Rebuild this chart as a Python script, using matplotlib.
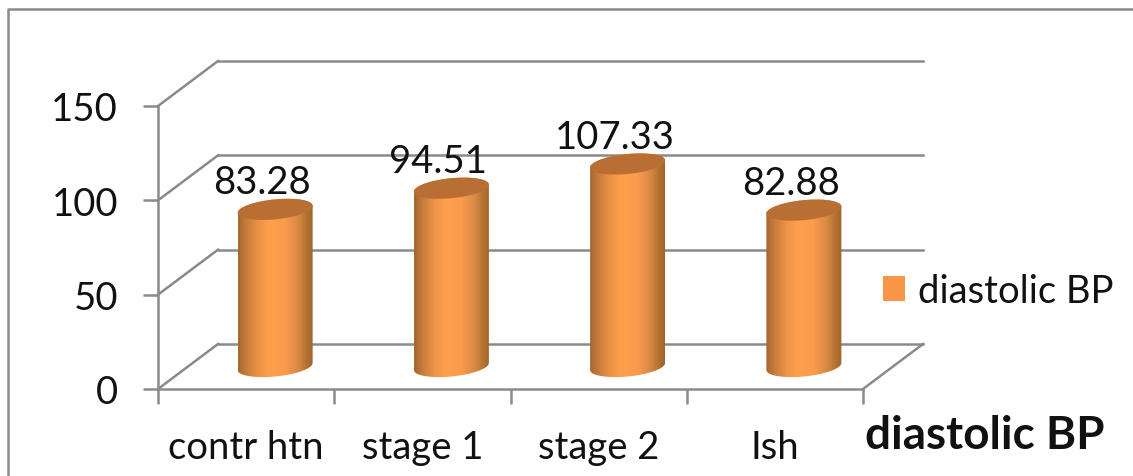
import numpy as np
import matplotlib
matplotlib.use("Agg")
import matplotlib.pyplot as plt
from matplotlib.colors import LinearSegmentedColormap
from matplotlib.lines import Line2D
from matplotlib.patches import Patch
from matplotlib.path import Path

categories = ["contr htn", "stage 1", "stage 2", "Ish"]
diastolic_bp = [83.28, 94.51, 107.33, 82.88]
y_ticks = [0, 50, 100, 150]
series_name = "diastolic BP"
axis_title = "diastolic BP"

plt.rcParams["font.family"] = ["Lato", "DejaVu Sans"]

W, H = 1133, 477
GREY = "#8a8a8a"
LW = 1.8
FS = 27.5
TEXT = "#111111"

# Plot box in pixels: the front plane of the 3D chart
LEFT, RIGHT, BOTTOM, TOP = 158, 863, 390, 107
DEPTH_X, DEPTH_Y = 60, 45  # oblique offset of the back wall, pixels

fig = plt.figure(figsize=(W / 100, H / 100), dpi=100, facecolor="white")
ax = fig.add_axes([LEFT / W, 1 - BOTTOM / H, (RIGHT - LEFT) / W, (BOTTOM - TOP) / H])
ax.set_xlim(0, len(categories))
ax.set_ylim(0, 150)
ax.patch.set_alpha(0)

ux = (RIGHT - LEFT) / len(categories)  # pixels per category
uy = (BOTTOM - TOP) / 150              # pixels per value unit


def project(x, y, depth):
    """Oblique projection of a point at a depth between 0 (front) and 1 (back)."""
    return x + depth * DEPTH_X / ux, y + depth * DEPTH_Y / uy


def line(xs, ys):
    ax.plot(xs, ys, color=GREY, lw=LW, clip_on=False, solid_capstyle="projecting", zorder=1)


# Back wall gridlines and their diagonals along the side wall
n = len(categories)
for v in y_ticks:
    x0, y0 = project(0, v, 1)
    x1, y1 = project(n, v, 1)
    line([0, x0], [v, y0])
    line([x0, x1], [y0, y1])

# Right edge of the floor
x1, y1 = project(n, 0, 1)
line([n, x1], [0, y1])

# Front axes
for side in ("top", "right"):
    ax.spines[side].set_visible(False)
for side in ("left", "bottom"):
    ax.spines[side].set_color(GREY)
    ax.spines[side].set_linewidth(LW)

ax.set_yticks(y_ticks)
ax.set_yticklabels([str(v) for v in y_ticks])
ax.tick_params(axis="y", length=10.8, width=LW, color=GREY, pad=18, labelsize=FS, labelcolor=TEXT)
ax.set_xticks(np.arange(n + 1))
ax.set_xticklabels([])
ax.tick_params(axis="x", which="major", length=10.8, width=LW, color=GREY)
ax.set_xticks(np.arange(n) + 0.5, minor=True)
ax.set_xticklabels(categories, minor=True)
ax.tick_params(axis="x", which="minor", length=0, pad=29, labelsize=FS, labelcolor=TEXT)

# Cylinders
body_cmap = LinearSegmentedColormap.from_list(
    "cyl",
    [(0.0, "#a4652f"), (0.10, "#c47a3a"), (0.28, "#ee9448"), (0.42, "#ffa04e"),
     (0.62, "#fb9c4c"), (0.80, "#d98a44"), (0.93, "#b0702f"), (1.0, "#a0632c")],
)
TOP_COLOR = "#b96f34"
half_w = 37.5 / ux
half_h = 10.0 / uy
tilt = 3.5 / uy
t = np.linspace(0, np.pi, 60)


def rim(cx, cy, angles):
    return cx + half_w * np.cos(angles), cy + half_h * np.sin(angles) + tilt * np.cos(angles)


for i, value in enumerate(diastolic_bp):
    cx, base = project(i + 0.5, 0, 0.5)
    cx -= 1 / ux
    top = base + value

    # Outline: lower half of the foot, then upper half of the cap
    fx, fy = rim(cx, base, np.pi + t)
    cap_x, cap_y = rim(cx, top, t)
    px = np.r_[fx, cap_x]
    py = np.r_[fy, cap_y]
    outline = Path(np.c_[np.r_[px, px[0]], np.r_[py, py[0]]], closed=True)

    img = ax.imshow(
        np.linspace(0, 1, 256)[None, :], cmap=body_cmap, aspect="auto", zorder=3,
        extent=[cx - half_w, cx + half_w, base - half_h - tilt, top + half_h + tilt],
        interpolation="bilinear",
    )
    img.set_clip_path(outline, transform=ax.transData)

    ex, ey = rim(cx, top, np.linspace(0, 2 * np.pi, 120))
    ax.fill(ex, ey, color=TOP_COLOR, lw=0, zorder=4, clip_on=False)

    ax.annotate(f"{value:.2f}", (cx, top), xytext=(-13, 27), textcoords="offset pixels",
                ha="center", va="center", fontsize=FS, color=TEXT, zorder=5,
                annotation_clip=False)

ax.set_xlim(0, n)
ax.set_ylim(0, 150)

# Axis title, placed beside the end of the category axis
fig.text(985 / W, 1 - 436 / H, axis_title, ha="center", va="center",
         fontsize=33, fontweight="bold", color=TEXT)

# Legend
handle = Patch(facecolor="#f79646", edgecolor="none", label=series_name)
fig.legend(handles=[handle], loc="center left", bbox_to_anchor=(852 / W, 1 - 292 / H),
           frameon=False, fontsize=FS, handlelength=0.6, handleheight=0.6,
           handletextpad=0.32, labelcolor=TEXT, borderpad=0.3)

# Chart area border, open to the right and below
fig.add_artist(Line2D([8 / W, 8 / W, 1], [0, 1 - 10 / H, 1 - 10 / H],
                      transform=fig.transFigure, color=GREY, lw=LW))

fig.savefig("out.png", dpi=100, facecolor="white")
